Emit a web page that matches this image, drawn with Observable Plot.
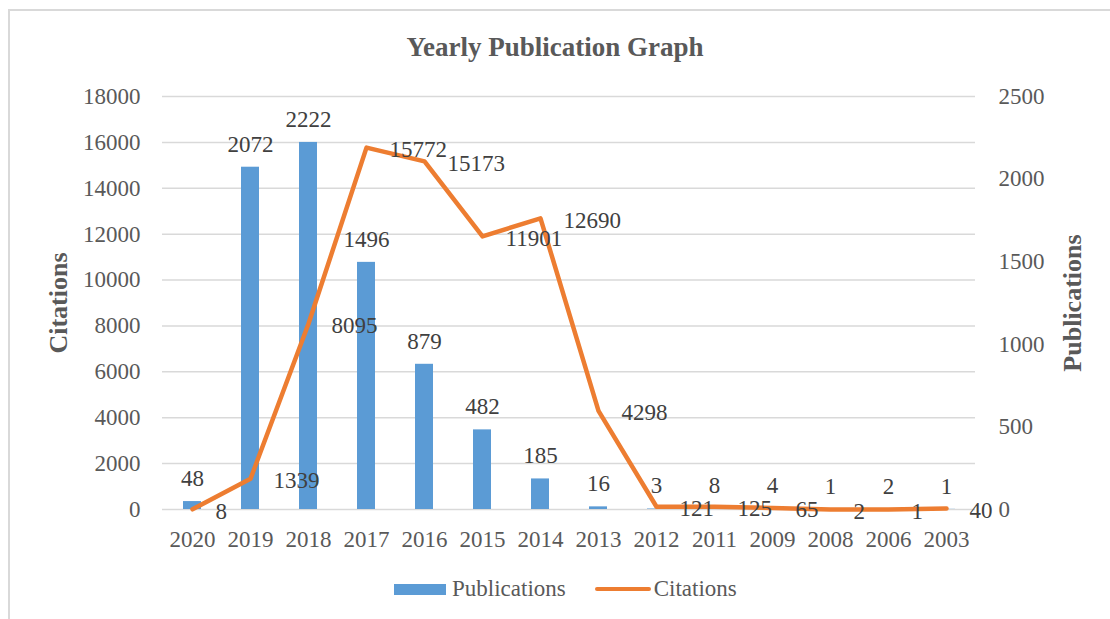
<!DOCTYPE html>
<html>
<head>
<meta charset="utf-8">
<script src="https://cdn.jsdelivr.net/npm/d3@7"></script>
<script src="https://cdn.jsdelivr.net/npm/@observablehq/plot@0.6"></script>
<style>
  html, body { margin: 0; padding: 0; background: #fff; }
  #wrap { position: relative; width: 1110px; height: 619px; overflow: hidden; font-family: "Liberation Serif", "Times New Roman", serif; }
  #frame { position: absolute; left: 8px; top: 9px; width: 1200px; height: 700px; border-top: 2px solid #d9d9d9; border-left: 2px solid #d9d9d9; pointer-events: none; }
  #title { position: relative; height: 70px; box-sizing: border-box; padding-top: 34px; text-align: center; font-size: 27px; line-height: 27px; font-weight: bold; color: #595959; }
  #chart { position: relative; height: 480px; }
  #chart svg, #chart svg text { font-family: "Liberation Serif", "Times New Roman", serif !important; }
  #legend { position: absolute; top: 576px; left: 394px; height: 26px; display: flex; align-items: center; font-size: 23px; color: #595959; }
  .sw-bar { width: 52px; height: 11px; background: #5B9BD5; margin-right: 6px; }
  .sw-line { width: 56px; height: 4px; border-radius: 2px; background: #ED7D31; margin-left: 29px; margin-right: 3px; }
</style>
</head>
<body>
<div id="wrap">
  <div id="frame"></div>
  <div id="title">Yearly Publication Graph</div>
  <div id="chart"></div>
  <div id="legend"><div class="sw-bar"></div><span>Publications</span><div class="sw-line"></div><span>Citations</span></div>
</div>
<script>
const years = ["2020","2019","2018","2017","2016","2015","2014","2013","2012","2011","2009","2008","2006","2003"];
const publications = [48, 2072, 2222, 1496, 879, 482, 185, 16, 3, 8, 4, 1, 2, 1];
const citations = [8, 1339, 8095, 15772, 15173, 11901, 12690, 4298, 121, 125, 65, 2, 1, 40];
const citationTicks = [0, 2000, 4000, 6000, 8000, 10000, 12000, 14000, 16000, 18000];
const publicationTicks = [0, 500, 1000, 1500, 2000, 2500];

const citMax = 18000, pubMax = 2500;
const toLeft = v => v * citMax / pubMax;

const data = years.map((year, i) => ({year, pub: publications[i], cit: citations[i]}));

const FONT = "'Liberation Serif', 'Times New Roman', serif";

const plot = Plot.plot({
  width: 1110,
  height: 480,
  marginTop: 26,
  marginBottom: 41,
  marginLeft: 162,
  marginRight: 135,
  style: {fontFamily: FONT, color: "#595959", background: "transparent", overflow: "visible"},
  x: {type: "band", domain: years, padding: 0},
  y: {domain: [0, citMax]},
  marks: [
    Plot.gridY(citationTicks, {stroke: "#d9d9d9", strokeOpacity: 1, strokeWidth: 1.5}),
    Plot.barY(data, {x: "year", y: d => toLeft(d.pub), fill: "#5B9BD5", insetLeft: 20, insetRight: 20}),
    Plot.lineY(data, {x: "year", y: "cit", stroke: "#ED7D31", strokeWidth: 4.5, strokeLinejoin: "round", strokeLinecap: "round"}),
    Plot.axisX({tickSize: 0, tickPadding: 21, fontSize: 23, label: null, fontFamily: FONT}),
    Plot.axisY({anchor: "left", ticks: citationTicks, tickFormat: d => String(d), tickSize: 0, tickPadding: 22, fontSize: 23, label: null, fontFamily: FONT}),
    Plot.axisY({anchor: "right", ticks: publicationTicks.map(toLeft), tickFormat: d => String(Math.round(d * pubMax / citMax)), tickSize: 0, tickPadding: 23, fontSize: 23, label: null, fontFamily: FONT}),
    Plot.text(data, {x: "year", y: d => toLeft(d.pub), text: d => String(d.pub), dy: -23, fontSize: 23, fill: "#404040", fontFamily: FONT}),
    Plot.text(data, {x: "year", y: "cit", text: d => String(d.cit), textAnchor: "start", dx: 23, dy: 2, fontSize: 23, fill: "#404040", fontFamily: FONT}),
    Plot.text(["Citations"], {frameAnchor: "left", text: d => d, textAnchor: "middle", rotate: -90, dx: -104, fontSize: 26, fontWeight: "bold", fill: "#595959", fontFamily: FONT}),
    Plot.text(["Publications"], {frameAnchor: "right", text: d => d, textAnchor: "middle", rotate: -90, dx: 97, fontSize: 26, fontWeight: "bold", fill: "#595959", fontFamily: FONT})
  ]
});
document.getElementById("chart").appendChild(plot);
</script>
</body>
</html>
